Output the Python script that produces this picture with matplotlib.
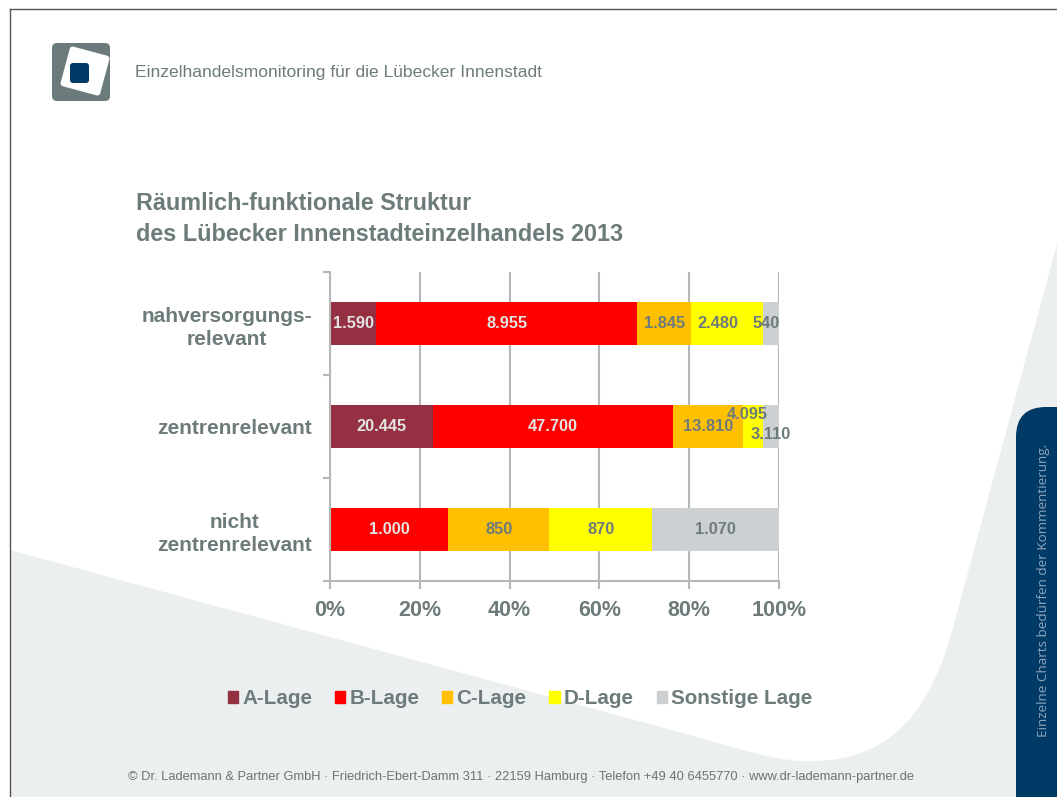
import numpy as np
import matplotlib.pyplot as plt
from matplotlib.patches import FancyBboxPatch, Patch, PathPatch
from matplotlib.path import Path
from matplotlib.transforms import Affine2D

# Daten (Anzahl je Lage)
categories = ["nahversorgungs-\nrelevant", "zentrenrelevant", "nicht\nzentrenrelevant"]
series = ["A-Lage", "B-Lage", "C-Lage", "D-Lage", "Sonstige Lage"]
a_lage = [1590, 20445, 0]
b_lage = [8955, 47700, 1000]
c_lage = [1845, 13810, 850]
d_lage = [2480, 4095, 870]
sonstige = [540, 3110, 1070]
x_ticks = [0, 20, 40, 60, 80, 100]

colors = ["#953043", "#ff0000", "#ffc000", "#ffff00", "#ccd0d3"]
text_grey = "#6d7b7b"
grid_grey = "#b5b8b8"
bg_grey = "#eceff0"
dark_blue = "#003a66"

plt.rcParams['font.family'] = ['Liberation Sans', 'DejaVu Sans']

W, H = 1057, 797
fig = plt.figure(figsize=(W / 100, H / 100), dpi=100)

# Hintergrund (Folie) in Pixelkoordinaten
bg = fig.add_axes([0, 0, 1, 1], zorder=0)
bg.set_xlim(0, W)
bg.set_ylim(H, 0)
bg.axis("off")

verts = [(10, 550), (690, 735),
         (760, 755), (790, 765), (830, 760),
         (900, 752), (935, 700), (955, 620),
         (1057, 244), (1057, H), (10, H), (10, 550)]
codes = [Path.MOVETO, Path.LINETO,
         Path.CURVE4, Path.CURVE4, Path.CURVE4,
         Path.CURVE4, Path.CURVE4, Path.CURVE4,
         Path.LINETO, Path.LINETO, Path.LINETO, Path.CLOSEPOLY]
bg.add_patch(PathPatch(Path(verts, codes), fc=bg_grey, ec="none"))

# Rahmen
bg.plot([10, W], [9, 9], color="#555555", lw=1)
bg.plot([10, 10], [9, H], color="#555555", lw=1)

# Reiter rechts
bg.add_patch(FancyBboxPatch((1016, 407), 80, 420, boxstyle="round,pad=0,rounding_size=30",
                            fc=dark_blue, ec="none"))
bg.text(1043, 590, "Einzelne Charts bedürfen der Kommentierung.", rotation=90,
        ha="center", va="center", color="#8ea5bd", fontsize=9.7, family="Open Sans")

# Logo
bg.add_patch(FancyBboxPatch((52, 43), 58, 58, boxstyle="round,pad=0,rounding_size=5",
                            fc="#6b7b7b", ec="none"))
white_sq = FancyBboxPatch((64.5, 50.5), 41, 41, boxstyle="round,pad=0,rounding_size=3",
                          fc="white", ec="none")
white_sq.set_transform(Affine2D().rotate_deg_around(85, 71, 15) + bg.transData)
bg.add_patch(white_sq)
bg.add_patch(FancyBboxPatch((70, 63), 19, 20, boxstyle="round,pad=0,rounding_size=3",
                            fc=dark_blue, ec="none"))

bg.text(135, 72, "Einzelhandelsmonitoring für die Lübecker Innenstadt",
        ha="left", va="center", color=text_grey, fontsize=12.6)

# Titel
bg.text(136, 219, "Räumlich-funktionale Struktur\ndes Lübecker Innenstadteinzelhandels 2013",
        ha="left", va="center", color=text_grey, fontsize=16.8, fontweight="bold",
        linespacing=1.45)

# Fußzeile
bg.text(521, 777, "© Dr. Lademann & Partner GmbH · Friedrich-Ebert-Damm 311 · 22159 Hamburg · "
        "Telefon +49 40 6455770 · www.dr-lademann-partner.de",
        ha="center", va="center", color="#6b7373", fontsize=9.3)

# Diagramm
ax = fig.add_axes([330 / W, 1 - 581 / H, 449 / W, 309 / H], zorder=1)
ax.patch.set_alpha(0)

data = np.array([a_lage, b_lage, c_lage, d_lage, sonstige], dtype=float)
totals = data.sum(axis=0)
shares = data / totals * 100
ypos = np.array([2, 1, 0])

label_colors = ["#e4e4e4", "#e4e4e4", text_grey, text_grey, text_grey]
offsets = {(3, 0): (-2.0, 0), (4, 0): (-1.2, 0), (3, 1): (-1.2, 0.12), (4, 1): (0, -0.08)}

left = np.zeros(len(categories))
for i, name in enumerate(series):
    ax.barh(ypos, shares[i], left=left, height=0.41, color=colors[i], label=name, zorder=2)
    for j in range(len(categories)):
        if data[i, j] > 0:
            dx, dy = offsets.get((i, j), (0, 0))
            txt = f"{int(data[i, j]):,}".replace(",", ".")
            ax.text(left[j] + shares[i, j] / 2 + dx, ypos[j] + dy, txt, ha="center", va="center",
                    color=label_colors[i], fontsize=11.8, fontweight="bold", zorder=3)
    left += shares[i]

ax.set_xlim(0, 100)
ax.set_ylim(-0.5, 2.5)
ax.set_xticks(x_ticks)
ax.set_xticklabels([f"{v}%" for v in x_ticks], fontsize=15.5, fontweight="bold", color=text_grey)
ax.set_yticks(ypos)
ax.set_yticklabels(categories, fontsize=15, fontweight="bold", color=text_grey,
                   multialignment="center", linespacing=1.3)
ax.set_yticks([-0.5, 0.5, 1.5, 2.5], minor=True)
ax.tick_params(axis="y", which="major", length=0, pad=13)
ax.tick_params(axis="y", which="minor", length=5, color=grid_grey, width=1.5)
ax.tick_params(axis="x", length=6, color=grid_grey, width=1.5, pad=8)
ax.xaxis.grid(True, color=grid_grey, lw=1.5, zorder=0)
ax.set_axisbelow(True)
for s in ["top", "right"]:
    ax.spines[s].set_visible(False)
for s in ["left", "bottom"]:
    ax.spines[s].set_color(grid_grey)
    ax.spines[s].set_linewidth(1.5)

handles = [Patch(color=c, label=n) for c, n in zip(colors, series)]
leg = fig.legend(handles=handles, loc="center", bbox_to_anchor=(520 / W, 1 - 699 / H), ncol=5,
                 frameon=False, handlelength=0.5, handleheight=0.5, handletextpad=0.2,
                 columnspacing=1.1, prop={"weight": "bold", "size": 14.9})
for t in leg.get_texts():
    t.set_color(text_grey)

fig.savefig("out.png", dpi=100)
